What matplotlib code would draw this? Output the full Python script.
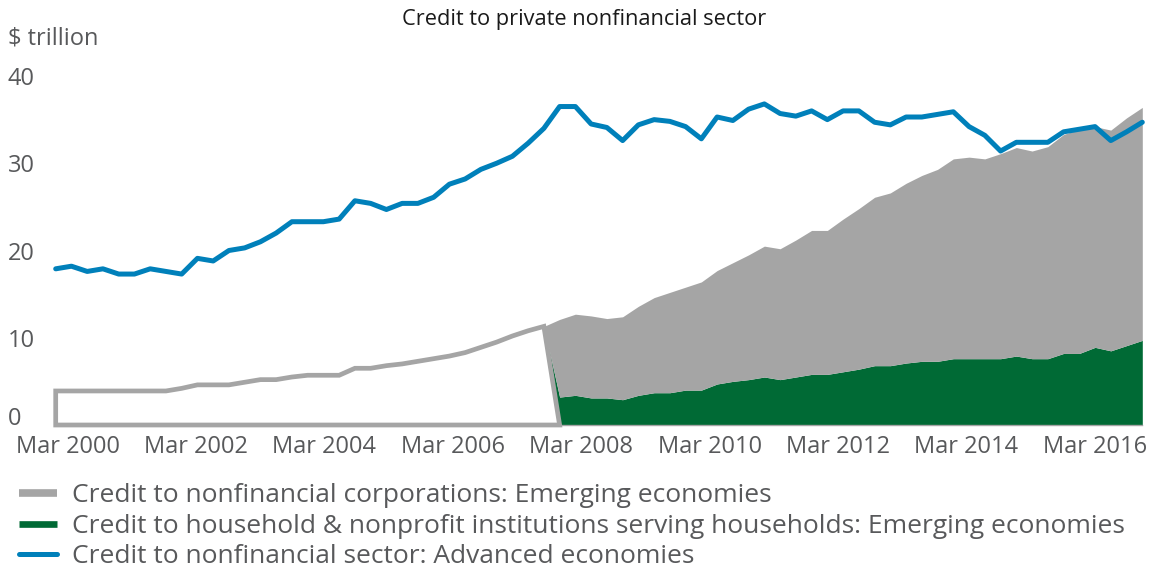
import numpy as np
import matplotlib.pyplot as plt
from matplotlib.lines import Line2D
from matplotlib import transforms

# quarterly credit stocks, $ trillion (last point = Dec 2016)
advanced = [17.9, 18.2, 17.6, 17.9, 17.3, 17.3, 17.9, 17.6, 17.3, 19.1,
            18.8, 20.0, 20.3, 21.0, 22.0, 23.3, 23.3, 23.3, 23.6, 25.7,
            25.4, 24.7, 25.4, 25.4, 26.1, 27.6, 28.2, 29.3, 30.0, 30.8,
            32.3, 34.0, 36.5, 36.5, 34.5, 34.1, 32.6, 34.4, 35.0, 34.8,
            34.2, 32.8, 35.3, 34.9, 36.2, 36.8, 35.7, 35.4, 36.0, 35.0,
            36.0, 36.0, 34.7, 34.4, 35.3, 35.3, 35.6, 35.9, 34.2, 33.2,
            31.4, 32.4, 32.4, 32.4, 33.6, 33.9, 34.2, 32.6, 33.6, 34.7]

em_corporate = [3.9, 3.9, 3.9, 3.9, 3.9, 3.9, 3.9, 3.9, 4.2, 4.6,
                4.6, 4.6, 4.9, 5.2, 5.2, 5.5, 5.7, 5.7, 5.7, 6.5,
                6.5, 6.8, 7.0, 7.3, 7.6, 7.9, 8.3, 8.9, 9.5, 10.2,
                10.8, 11.3, 8.9, 9.3, 9.4, 9.1, 9.5, 10.2, 10.9, 11.5,
                11.8, 12.4, 13.0, 13.6, 14.3, 15.0, 15.0, 15.7, 16.5, 16.5,
                17.5, 18.4, 19.3, 19.8, 20.6, 21.3, 22.0, 22.9, 23.1, 22.9,
                23.5, 23.9, 23.8, 24.3, 25.1, 25.7, 25.3, 25.3, 26.1, 26.7]

# household series only reported from Mar 2008
em_household = [None] * 32 + [
                3.2, 3.4, 3.1, 3.1, 2.9, 3.4, 3.7, 3.7,
                4.0, 4.0, 4.7, 5.0, 5.2, 5.5, 5.2, 5.5, 5.8, 5.8,
                6.1, 6.4, 6.8, 6.8, 7.1, 7.3, 7.3, 7.6, 7.6, 7.6,
                7.6, 7.9, 7.6, 7.6, 8.2, 8.2, 8.9, 8.5, 9.1, 9.7]

tick_labels = ["Mar 2000", "Mar 2002", "Mar 2004", "Mar 2006", "Mar 2008",
               "Mar 2010", "Mar 2012", "Mar 2014", "Mar 2016"]
y_ticks = [0, 10, 20, 30, 40]

legend_names = ["Credit to nonfinancial corporations: Emerging economies",
                "Credit to household & nonprofit institutions serving households: Emerging economies",
                "Credit to nonfinancial sector: Advanced economies"]

BLUE = "#0080BA"
GREEN = "#006A35"
GRAY = "#A5A5A5"
TEXT = "#58595B"

plt.rcParams["font.family"] = ["Open Sans", "DejaVu Sans"]

W, H = 1151, 569
fig = plt.figure(figsize=(W / 100, H / 100), dpi=100)
ax = fig.add_axes([55.7 / W, 144 / H, (1142.3 - 55.7) / W, 349 / H])

x = np.arange(len(advanced))
corp = np.array(em_corporate, dtype=float)
hh = np.array([np.nan if v is None else v for v in em_household])
has_hh = ~np.isnan(hh)
top = corp + np.nan_to_num(hh)
first = int(np.argmax(has_hh))
s = first - 1
green_top = np.where(has_hh, hh, top)

# stacked emerging-economy areas
ax.fill_between(x[s:], 0, green_top[s:], color=GREEN, lw=0, zorder=1)
ax.fill_between(x[s:], green_top[s:], top[s:], color=GRAY, lw=0, zorder=1)
# before the split only the total exists: white block with grey outline
px = np.r_[x[0], x[:first], x[first]]
py = np.r_[0, top[:first], 0]
ax.fill(px, py, facecolor="white", edgecolor=GRAY, lw=3.4, zorder=2,
        clip_on=False)

ax.axhline(0, color=GRAY, lw=1, zorder=1.5, clip_on=False)

ax.plot(x, advanced, color=BLUE, lw=3.6, solid_capstyle="round",
        solid_joinstyle="round", zorder=3, clip_on=False)

ax.set_xlim(0, len(advanced) - 1)
ax.set_ylim(0, 40)
for sp in ax.spines.values():
    sp.set_visible(False)
ax.set_yticks([])
tick_pos = [0.75 + 8.155 * k for k in range(len(tick_labels))]
ax.set_xticks(tick_pos, tick_labels)
ax.tick_params(axis="x", length=0, pad=7.5, labelsize=17, labelcolor=TEXT)

# y labels sit flush at the left edge of the figure
ytr = transforms.blended_transform_factory(fig.transFigure, ax.transData)
for v in y_ticks:
    dy = 6 if v == 0 else -3
    tr = transforms.offset_copy(ytr, fig=fig, x=0, y=dy, units="dots")
    ax.text(8 / W, v, str(v), transform=tr, ha="left", va="center",
            fontsize=17, color=TEXT)

fig.text(8 / W, 1 - 38 / H, "$ trillion", ha="left", va="center",
         fontsize=17, color=TEXT)
fig.text(584 / W, 1 - 19.5 / H, "Credit to private nonfinancial sector",
         ha="center", va="center", fontsize=15.7, color="#1a1a1a")

# legend
leg_y = [493.0, 523.5, 553.5]
leg_style = [(GRAY, 5.5, "butt"), (GREEN, 4.8, "butt"), (BLUE, 3.6, "round")]
for name, yy, (col, lw, cap) in zip(legend_names, leg_y, leg_style):
    fy = 1 - yy / H
    fig.add_artist(Line2D([19 / W, 57 / W], [fy, fy], color=col, lw=lw,
                          solid_capstyle=cap, transform=fig.transFigure))
    fig.text(72 / W, 1 - yy / H, name, ha="left", va="center_baseline",
             fontsize=19, color=TEXT)

fig.savefig("out.png", dpi=100)
